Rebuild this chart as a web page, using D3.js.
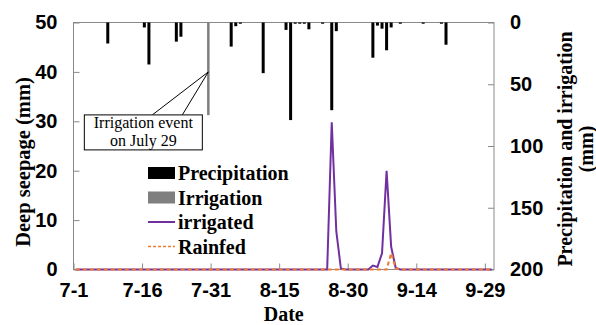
<!DOCTYPE html>
<html lang="en">
<head>
<meta charset="UTF-8">
<title>Deep seepage</title>
<script src="https://d3js.org/d3.v7.min.js"></script>
<style>
    body { margin: 0; background: #fff; }
    svg { display: block; font-family: 'Liberation Serif', 'Times New Roman', serif; }
    .axis text { font-size: 20px; font-weight: bold; fill: #000; }
    .axis line { stroke: #898989; }
    .axis path { display: none; }
    .title { font-size: 20px; font-weight: bold; fill: #000; }
    .legend text { font-size: 20px; font-weight: bold; fill: #000; }
    .note { font-size: 16px; fill: #000; }
</style>
</head>
<body>
<svg width="596" height="325"></svg>
<script>
// ---- data ----
const startDate = "7-1";
const endDate = "10-1";
const tickDates = ["7-1", "7-16", "7-31", "8-15", "8-30", "9-14", "9-29"];
const leftTicks = [0, 10, 20, 30, 40, 50];
const rightTicks = [0, 50, 100, 150, 200];

const precipDates = ["7-8", "7-16", "7-17", "7-23", "7-24", "8-4", "8-5", "8-6", "8-11",
    "8-16", "8-17", "8-18", "8-19", "8-20", "8-21", "8-24", "8-26", "8-27",
    "9-4", "9-5", "9-6", "9-7", "9-8", "9-10", "9-15", "9-19", "9-20"];
const precipValues = [17, 4, 34, 15.5, 11.5, 19.5, 3, 1, 41,
    6, 79, 1, 1, 1, 5.5, 1, 71, 7,
    28.5, 2.5, 5, 22.5, 4, 1, 1, 1, 18];

const irrigationDates = ["7-30"];
const irrigationValues = [75];

// daily deep seepage, 7-1 .. 9-30
const irrigated = [
    0, 0, 0, 0, 0, 0, 0, 0, 0, 0,
    0, 0, 0, 0, 0, 0, 0, 0, 0, 0,
    0, 0, 0, 0, 0, 0, 0, 0, 0, 0,
    0, 0, 0, 0, 0, 0, 0, 0, 0, 0,
    0, 0, 0, 0, 0, 0, 0, 0, 0, 0,
    0, 0, 0, 0, 0, 0, 29.8, 7.7, 0.2, 0,
    0, 0, 0, 0, 0, 0.8, 0.5, 3.3, 20.0, 4.6,
    0.3, 0, 0, 0, 0, 0, 0, 0, 0, 0,
    0, 0, 0, 0, 0, 0, 0, 0, 0, 0,
    0, 0
];
const rainfed = [
    0, 0, 0, 0, 0, 0, 0, 0, 0, 0,
    0, 0, 0, 0, 0, 0, 0, 0, 0, 0,
    0, 0, 0, 0, 0, 0, 0, 0, 0, 0,
    0, 0, 0, 0, 0, 0, 0, 0, 0, 0,
    0, 0, 0, 0, 0, 0, 0, 0, 0, 0,
    0, 0, 0, 0, 0, 0, 0, 0, 0, 0,
    0, 0, 0, 0, 0, 0, 0, 0, 0, 3.3,
    0.2, 0, 0, 0, 0, 0, 0, 0, 0, 0,
    0, 0, 0, 0, 0, 0, 0, 0, 0, 0,
    0, 0
];

// ---- chart ----
const svg = d3.select("svg");
const parse = d3.utcParse("%m-%d");
const mid = s => d3.utcHour.offset(parse(s), 12);

const pLeft = 73.5, pRight = 494, pTop = 22.5, pBottom = 269.5;

const x = d3.scaleUtc().domain([parse(startDate), parse(endDate)]).range([pLeft, pRight]);
const yL = d3.scaleLinear().domain([0, 50]).range([pBottom, pTop]);
const yR = d3.scaleLinear().domain([0, 200]).range([pTop, pBottom]);

const days = d3.utcDay.range(parse(startDate), parse(endDate));

// frame
svg.append("rect")
    .attr("x", pLeft).attr("y", pTop)
    .attr("width", pRight - pLeft).attr("height", pBottom - pTop)
    .attr("fill", "none").attr("stroke", "#898989").attr("stroke-width", 1);

// axes
svg.append("g").attr("class", "axis")
    .attr("transform", `translate(${pLeft},0)`)
    .call(d3.axisLeft(yL).tickValues(leftTicks).tickSize(-6).tickPadding(16));

svg.append("g").attr("class", "axis")
    .attr("transform", `translate(${pRight},0)`)
    .call(d3.axisRight(yR).tickValues(rightTicks).tickSize(-6).tickPadding(16));

svg.append("g").attr("class", "axis")
    .attr("transform", `translate(0,${pBottom})`)
    .call(d3.axisBottom(x).tickValues(tickDates.map(parse))
        .tickFormat(d3.utcFormat("%-m-%-d")).tickSize(-6).tickPadding(13));

// bars hanging from the top
svg.append("g").selectAll("rect")
    .data(precipDates.map((d, i) => ({ date: mid(d), v: precipValues[i] })))
    .join("rect")
    .attr("x", d => x(d.date) - 1.5)
    .attr("y", pTop)
    .attr("width", 3)
    .attr("height", d => yR(d.v) - pTop)
    .attr("fill", "#000");

svg.append("g").selectAll("rect")
    .data(irrigationDates.map((d, i) => ({ date: mid(d), v: irrigationValues[i] })))
    .join("rect")
    .attr("x", d => x(d.date) - 1.25)
    .attr("y", pTop)
    .attr("width", 2.5)
    .attr("height", d => yR(d.v) - pTop)
    .attr("fill", "#7f7f7f");

// seepage lines
const line = d3.line()
    .x((d, i) => x(d3.utcHour.offset(days[i], 12)))
    .y(d => yL(d));

svg.append("path")
    .datum(irrigated)
    .attr("d", line)
    .attr("fill", "none")
    .attr("stroke", "#7030a0")
    .attr("stroke-width", 2);

svg.append("path")
    .datum(rainfed)
    .attr("d", line)
    .attr("fill", "none")
    .attr("stroke", "#ed7d31")
    .attr("stroke-width", 2)
    .attr("stroke-dasharray", "4,3");

// callout
const ax = x(mid(irrigationDates[0])), ay = yL(40);
const note = svg.append("g");
note.append("path")
    .attr("d", `M${ax - 56},${ay + 43} L${ax},${ay} L${ax - 26},${ay + 43}`)
    .attr("fill", "none").attr("stroke", "#000").attr("stroke-width", 1);
note.append("rect")
    .attr("x", ax - 124).attr("y", ay + 43)
    .attr("width", 118).attr("height", 35)
    .attr("fill", "#fff").attr("stroke", "#000").attr("stroke-width", 1);
note.append("text").attr("class", "note")
    .attr("x", ax - 65).attr("y", ay + 56).attr("text-anchor", "middle")
    .text("Irrigation event");
note.append("text").attr("class", "note")
    .attr("x", ax - 65).attr("y", ay + 74).attr("text-anchor", "middle")
    .text("on July 29");

// legend
const legend = svg.append("g").attr("class", "legend").attr("transform", "translate(148,173)");
const items = [
    { name: "Precipitation", type: "bar", color: "#000" },
    { name: "Irrigation", type: "bar", color: "#7f7f7f" },
    { name: "irrigated", type: "line", color: "#7030a0" },
    { name: "Rainfed", type: "dash", color: "#ed7d31" }
];
items.forEach((it, i) => {
    const g = legend.append("g").attr("transform", `translate(0,${i * 24.5})`);
    if (it.type === "bar") {
        g.append("rect").attr("x", 0).attr("y", -6).attr("width", 27).attr("height", 12).attr("fill", it.color);
    } else {
        g.append("line").attr("x1", 0).attr("x2", 27).attr("y1", 0).attr("y2", 0)
            .attr("stroke", it.color).attr("stroke-width", it.type === "dash" ? 1.5 : 2)
            .attr("stroke-dasharray", it.type === "dash" ? "3,2" : null);
    }
    g.append("text").attr("x", 30).attr("y", 7).text(it.name);
});

// titles
svg.append("text").attr("class", "title")
    .style("font-size", "20.5px")
    .attr("transform", "translate(30,162) rotate(-90)")
    .attr("text-anchor", "middle")
    .text("Deep seepage (mm)");

svg.append("text").attr("class", "title")
    .attr("x", (pLeft + pRight) / 2).attr("y", 321)
    .attr("text-anchor", "middle")
    .text("Date");

const rt = svg.append("text").attr("class", "title")
    .attr("transform", "translate(572,149) rotate(-90)")
    .attr("text-anchor", "middle");
rt.append("tspan").attr("x", 0).attr("y", 0).text("Precipitation and irrigation");
rt.append("tspan").attr("x", 0).attr("y", 21).text("(mm)");
</script>
</body>
</html>
